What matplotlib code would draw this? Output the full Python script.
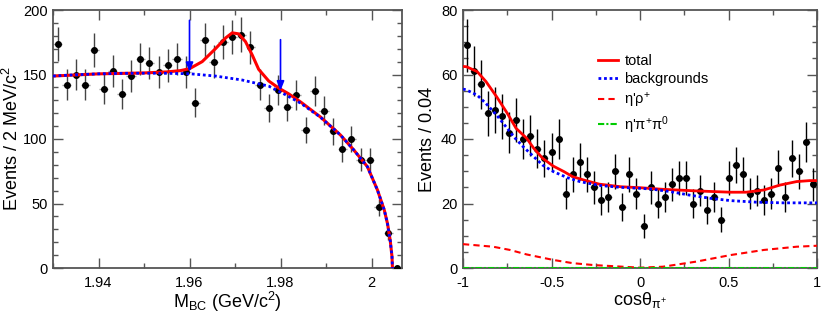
import numpy as np
import matplotlib
matplotlib.use("Agg")
import matplotlib.pyplot as plt
from matplotlib.ticker import MultipleLocator

plt.rcParams['font.family'] = ['Liberation Sans', 'DejaVu Sans']
plt.rcParams['mathtext.default'] = 'regular'

# --- left panel: M_BC ---
mbc_edges = np.linspace(1.93, 2.0067, 39)
mbc_counts = [174, 142, 150, 142, 169, 139, 153, 135, 149, 162,
              159, 152, 157, 162, 152, 128, 177, 160, 175, 179,
              181, 171, 142, 124, 138, 125, 134, 107, 137, 122,
              106, 92, 100, 84, 84, 47, 27, 0]

mbc_bkg_x = [1.930, 1.935, 1.940, 1.945, 1.950, 1.955, 1.960, 1.9657, 1.9716,
             1.9774, 1.981, 1.9845, 1.9888, 1.9932, 1.9961, 1.9991, 2.0013,
             2.0028, 2.0035, 2.0041, 2.0045, 2.0046]
mbc_bkg_y = [148.8, 149.8, 150.5, 150.9, 151.0, 150.9, 150.6, 148.8, 145.7,
             141.0, 134.5, 127.6, 116.8, 103.0, 91.5, 78.5, 60.5,
             45.0, 34.6, 21.7, 8.8, 0.0]

mbc_tot_x = [1.930, 1.940, 1.950, 1.955, 1.958, 1.960, 1.9628, 1.9657, 1.968,
             1.9694, 1.9708, 1.9723, 1.9738, 1.9752, 1.9774, 1.9796, 1.9818,
             1.9845, 1.9888, 1.9932, 1.9961, 1.9991, 2.0013, 2.0028, 2.0035,
             2.0041, 2.0045, 2.0046]
mbc_tot_y = [148.8, 150.5, 151.2, 152.0, 153.0, 154.5, 160.0, 170.0, 178.5,
             182.3, 181.5, 175.5, 165.0, 154.0, 145.0, 139.5, 135.0,
             128.5, 117.0, 103.0, 91.5, 78.5, 60.5, 45.0, 34.6,
             21.7, 8.8, 0.0]

# signal window arrows (x, top, tip)
arrow_x = [1.96, 1.98]
arrow_top = [192, 177]
arrow_tip = [152, 137.5]

# --- right panel: cos theta ---
cos_edges = np.linspace(-1, 1, 51)
cos_counts = [69, 61, 57, 48, 49, 47, 42, 46, 40, 41,
              37, 34, 36, 40, 23, 29, 33, 29, 25, 21,
              22, 30, 19, 29, 23, 13, 25, 20, 22, 26,
              28, 28, 20, 24, 18, 22, 15, 28, 32, 29,
              23, 24, 21, 23, 31, 22, 34, 30, 39, 26]

cos_tot_x = [-1.0, -0.98, -0.92, -0.87, -0.81, -0.75, -0.70, -0.64, -0.60, -0.55,
             -0.49, -0.43, -0.38, -0.30, -0.23, -0.11, 0.0, 0.13, 0.32, 0.51,
             0.60, 0.70, 0.79, 0.885, 0.96, 1.0]
cos_tot_y = [62.5, 62.4, 60.9, 57.8, 53.1, 48.0, 43.3, 40.2, 37.1, 34.0,
             31.6, 29.9, 28.3, 27.0, 26.0, 25.2, 24.9, 24.4, 23.9, 23.5,
             23.5, 24.2, 25.7, 26.8, 27.1, 27.1]

cos_bkg_x = [-1.0, -0.98, -0.92, -0.87, -0.81, -0.75, -0.71, -0.66, -0.60, -0.55,
             -0.49, -0.41, -0.34, -0.23, -0.11, 0.0, 0.06, 0.17, 0.28, 0.40,
             0.51, 0.66, 0.81, 1.0]
cos_bkg_y = [55.5, 55.2, 53.6, 51.0, 47.4, 43.3, 40.5, 37.6, 34.5, 31.9,
             29.9, 28.0, 26.8, 25.6, 25.0, 24.7, 24.5, 23.7, 22.6, 21.6,
             20.9, 20.4, 20.2, 20.2]

cos_rho_x = [-1.0, -0.83, -0.735, -0.64, -0.49, -0.38, -0.26, 0.0, 0.13, 0.32,
             0.51, 0.70, 0.885, 1.0]
cos_rho_y = [7.4, 6.6, 5.6, 4.2, 2.5, 1.5, 0.9, 0.1, 0.4, 2.0,
             4.0, 5.6, 6.6, 6.9]

cos_pipi_x = [-1.0, 1.0]
cos_pipi_y = [0.15, 0.15]

legend_labels = ["total", "backgrounds", r"$\eta$'$\rho^{+}$", r"$\eta$'$\pi^{+}\pi^{0}$"]

RED = '#ff0000'
BLUE = '#0000ff'
GREEN = '#00cc00'
FRAME = '#555555'

fig = plt.figure(figsize=(8.22, 3.19), dpi=100)
ax1 = fig.add_axes([53 / 822, 51 / 319, 349 / 822, 258 / 319])
ax2 = fig.add_axes([463 / 822, 51 / 319, 354 / 822, 258 / 319])


def style_axes(ax):
    for s in ax.spines.values():
        s.set_color(FRAME)
        s.set_linewidth(1.3)
    ax.tick_params(which='both', direction='in', top=True, right=True,
                   color=FRAME, width=1.0, labelsize=10.5)
    ax.tick_params(which='major', length=7)
    ax.tick_params(which='minor', length=3.5)
    ax.tick_params(axis='x', pad=6)
    ax.tick_params(axis='y', pad=4)


def draw_points(ax, edges, counts, ecolor):
    centers = 0.5 * (edges[:-1] + edges[1:])
    half = 0.5 * (edges[1] - edges[0])
    counts = np.asarray(counts, dtype=float)
    err = np.sqrt(counts)
    ax.errorbar(centers, counts, xerr=half, fmt='none', ecolor='#999999',
                elinewidth=1.0, capsize=0, zorder=2)
    ax.errorbar(centers, counts, yerr=err, fmt='o', color='black', ms=4,
                ecolor=ecolor, elinewidth=1.0, capsize=0, zorder=3)


# left
style_axes(ax1)
draw_points(ax1, mbc_edges, mbc_counts, '#444444')
ax1.plot(mbc_tot_x, mbc_tot_y, color=RED, lw=2.2, zorder=4)
ax1.plot(mbc_bkg_x, mbc_bkg_y, color=BLUE, lw=2.0, ls=(0, (1, 1)), zorder=5)
for x, top, tip in zip(arrow_x, arrow_top, arrow_tip):
    ax1.annotate('', xy=(x, tip), xytext=(x, top),
                 arrowprops=dict(arrowstyle='-|>,head_length=0.55,head_width=0.22',
                                 color=BLUE, lw=1.2, shrinkA=0, shrinkB=0),
                 zorder=6)
ax1.set_xlim(mbc_edges[0], mbc_edges[-1])
ax1.set_ylim(0, 200)
ax1.xaxis.set_major_locator(MultipleLocator(0.02))
ax1.xaxis.set_minor_locator(MultipleLocator(0.01))
ax1.yaxis.set_major_locator(MultipleLocator(50))
ax1.yaxis.set_minor_locator(MultipleLocator(10))
ax1.set_xticks([1.94, 1.96, 1.98, 2.0], ['1.94', '1.96', '1.98', '2'])
ax1.set_xlabel(r"M$_{BC}$ (GeV/c$^{2}$)", fontsize=13, labelpad=0)
ax1.set_ylabel(r"Events / 2 MeV/c$^{2}$", fontsize=13, labelpad=0.5)

# right
style_axes(ax2)
draw_points(ax2, cos_edges, cos_counts, 'black')
ax2.plot(cos_tot_x, cos_tot_y, color=RED, lw=2.0, zorder=4, label=legend_labels[0])
ax2.plot(cos_bkg_x, cos_bkg_y, color=BLUE, lw=2.0, ls=(0, (1, 1)), zorder=4,
         label=legend_labels[1])
ax2.plot(cos_rho_x, cos_rho_y, color=RED, lw=1.5, ls=(0, (3, 2)), zorder=4,
         label=legend_labels[2])
ax2.plot(cos_pipi_x, cos_pipi_y, color=GREEN, lw=1.5, ls=(0, (3, 1, 1, 1)), zorder=4,
         label=legend_labels[3])
ax2.set_xlim(-1, 1)
ax2.set_ylim(0, 80)
ax2.xaxis.set_major_locator(MultipleLocator(0.5))
ax2.xaxis.set_minor_locator(MultipleLocator(0.25))
ax2.yaxis.set_major_locator(MultipleLocator(20))
ax2.yaxis.set_minor_locator(MultipleLocator(5))
ax2.set_xticks([-1, -0.5, 0, 0.5, 1], ['-1', '-0.5', '0', '0.5', '1'])
ax2.set_xlabel(r"cos$\theta_{\pi^{+}}$", fontsize=13, labelpad=0)
ax2.set_ylabel("Events / 0.04", fontsize=13, labelpad=4)
ax2.legend(loc='upper left', bbox_to_anchor=(0.38, 0.83), frameon=False,
           fontsize=10.5, handlelength=1.4, handletextpad=0.45, labelspacing=0.3,
           borderpad=0, borderaxespad=0)

fig.savefig('out.png', dpi=100)
